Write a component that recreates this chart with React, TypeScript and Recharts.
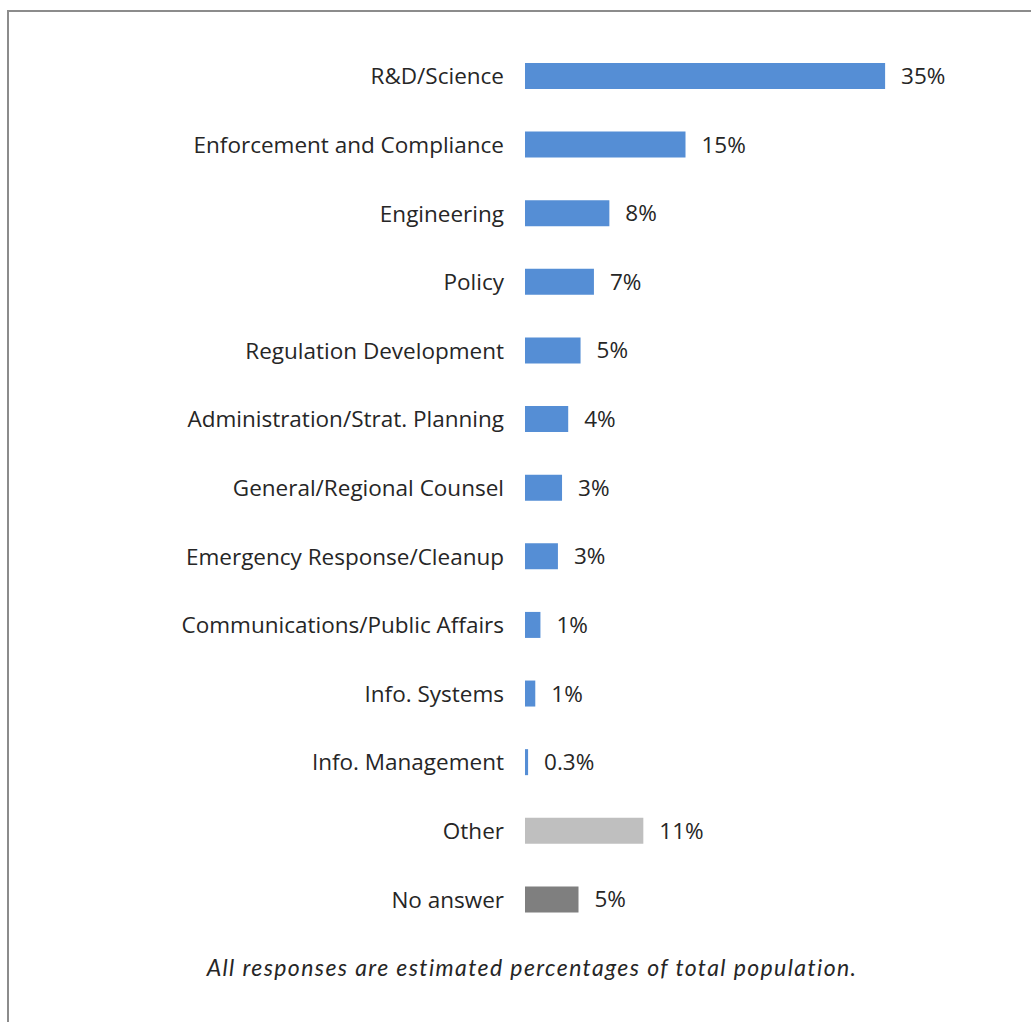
import { Bar, BarChart, Cell, LabelList, XAxis, YAxis } from 'recharts'

const categories = [
	'R&D/Science',
	'Enforcement and Compliance',
	'Engineering',
	'Policy',
	'Regulation Development',
	'Administration/Strat. Planning',
	'General/Regional Counsel',
	'Emergency Response/Cleanup',
	'Communications/Public Affairs',
	'Info. Systems',
	'Info. Management',
	'Other',
	'No answer',
]

const shares = [35, 15.6, 8.2, 6.7, 5.4, 4.2, 3.6, 3.2, 1.5, 1.0, 0.3, 11.5, 5.2]

const shareLabels = ['35%', '15%', '8%', '7%', '5%', '4%', '3%', '3%', '1%', '1%', '0.3%', '11%', '5%']

const barColors = [
	'#558ED5', '#558ED5', '#558ED5', '#558ED5', '#558ED5', '#558ED5', '#558ED5',
	'#558ED5', '#558ED5', '#558ED5', '#558ED5', '#BFBFBF', '#7F7F7F',
]

const data = categories.map((name, i) => ({
	name,
	value: shares[i],
	label: shareLabels[i],
}))

const font = "'Open Sans', 'Noto Sans', sans-serif"

export default function App() {
	return (
		<div
			style={{
				position: 'fixed',
				left: 0,
				top: 0,
				width: 1031,
				height: 1022,
				overflow: 'hidden',
				background: '#fff',
			}}
		>
			<div
				style={{
					position: 'absolute',
					left: 7,
					top: 10,
					width: 1100,
					height: 1100,
					border: '2px solid #8c8c8c',
				}}
			/>
			<div style={{ position: 'absolute', left: 0, top: 0 }}>
				<BarChart
					layout='vertical'
					width={1031}
					height={950}
					data={data}
					margin={{ top: 42, right: 43, bottom: 16, left: 0 }}
				>
					<XAxis type='number' domain={[0, 45]} hide />
					<YAxis
						type='category'
						dataKey='name'
						width={525}
						axisLine={false}
						tickLine={false}
						tickSize={0}
						tickMargin={21}
						interval={0}
						tick={{ fill: '#262626', fontSize: 22.5, fontFamily: font }}
					/>
					<Bar dataKey='value' barSize={26} isAnimationActive={false}>
						{data.map((d, i) => (
							<Cell key={d.name} fill={barColors[i]} />
						))}
						<LabelList
							dataKey='label'
							position='right'
							offset={16}
							fill='#262626'
							fontSize={22.5}
							fontFamily={font}
						/>
					</Bar>
				</BarChart>
			</div>
			<div
				style={{
					position: 'absolute',
					left: 0,
					width: 1064,
					top: 953,
					textAlign: 'center',
					fontFamily: "'Lato', sans-serif",
					fontStyle: 'italic',
					fontSize: 23,
					letterSpacing: 1.4,
					color: '#262626',
				}}
			>
				All responses are estimated percentages of total population.
			</div>
		</div>
	)
}
